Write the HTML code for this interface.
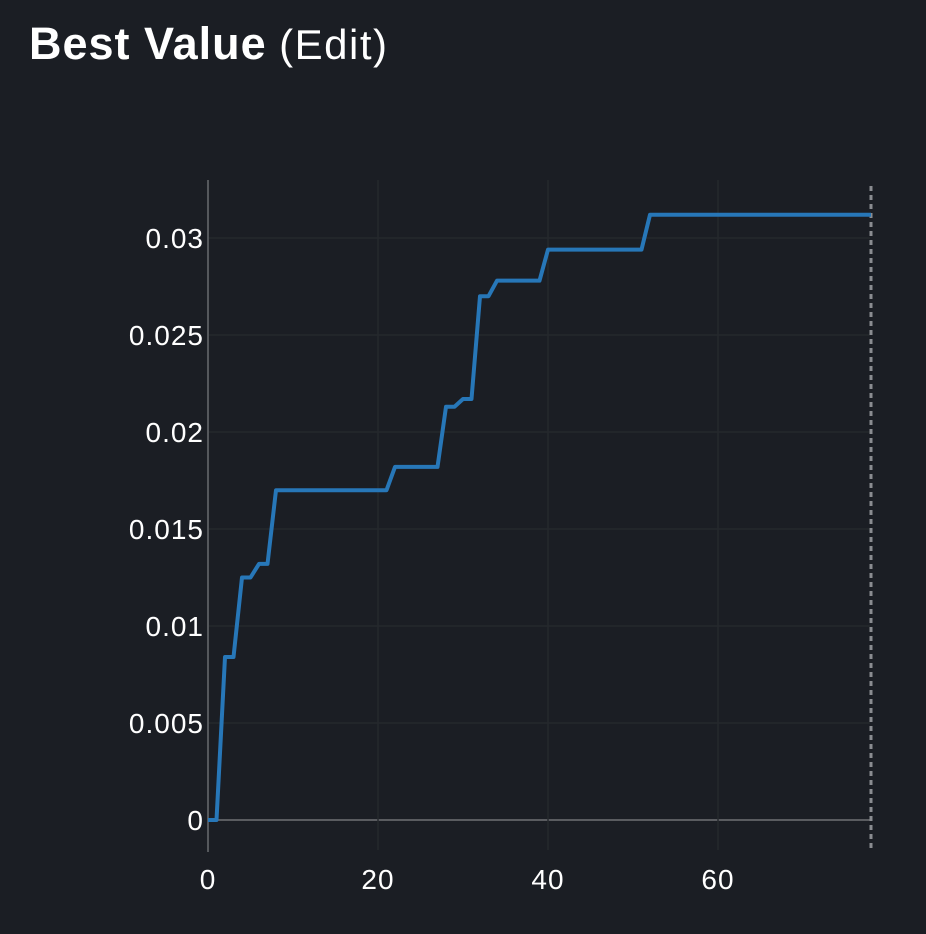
<!DOCTYPE html>
<html><head><meta charset="utf-8"><style>
html,body{margin:0;padding:0;background:#1b1e24;width:926px;height:934px;overflow:hidden}
#title{position:absolute;left:29px;top:18px;font-family:"Liberation Sans",sans-serif;font-size:45px;color:#fff;margin:0;white-space:nowrap}
#title b{font-weight:bold;letter-spacing:1px}
#title span{font-weight:normal;font-size:42px;letter-spacing:1.5px}
svg{position:absolute;left:0;top:0}
text{font-family:"Liberation Sans",sans-serif;fill:#fff;font-size:28px;letter-spacing:1px}
</style></head><body>
<div id="title"><b>Best Value</b> <span>(Edit)</span></div>
<svg id="chart" width="926" height="934"></svg>
<script>
const iterations=[0,1,2,3,4,5,6,7,8,21,22,27,28,29,30,31,32,33,34,39,40,51,52,78];
const bestValues=[0,0,0.0084,0.0084,0.0125,0.0125,0.0132,0.0132,0.017,0.017,0.0182,0.0182,0.0213,0.0213,0.0217,0.0217,0.027,0.027,0.0278,0.0278,0.0294,0.0294,0.0312,0.0312];
const yTicks=[0,0.005,0.01,0.015,0.02,0.025,0.03];
const yTickLabels=["0","0.005","0.01","0.015","0.02","0.025","0.03"];
const xTicks=[0,20,40,60];
const xMax=78;
const X=v=>208+v*8.5;
const Y=v=>820-v*(582/0.03);
const svg=document.getElementById('chart');
const NS='http://www.w3.org/2000/svg';
function mk(tag,attrs){const e=document.createElementNS(NS,tag);for(const k in attrs)e.setAttribute(k,attrs[k]);svg.appendChild(e);return e;}
yTicks.forEach((t,i)=>{
  const g=mk('line',{x1:208,x2:870,y1:Y(t),y2:Y(t),stroke:t===0?'#5a5c60':'#25282d','stroke-width':t===0?2:1.5});
  
  
  const l=mk('text',{x:204,y:Y(t)+10,'text-anchor':'end'});
  l.textContent=yTickLabels[i];
  
  
});
xTicks.forEach(t=>{
  if(t>0){const g=mk('line',{x1:X(t),x2:X(t),y1:180,y2:850,stroke:'#25282d','stroke-width':1.5});
  
  }
  const l=mk('text',{x:X(t),y:889,'text-anchor':'middle'});
  l.textContent=String(t);
  
  
});
const ax=mk('line',{x1:208,x2:208,y1:180,y2:852,stroke:'#55585c','stroke-width':2});


const dl=mk('line',{x1:X(xMax),x2:X(xMax),y1:186,y2:852,stroke:'#8a8c90','stroke-width':3,'stroke-dasharray':'5,4'});


const pts=iterations.map((x,i)=>X(x)+','+Y(bestValues[i])).join(' ');
const pl=mk('polyline',{points:pts,fill:'none',stroke:'#2777b8','stroke-width':4,'stroke-linejoin':'round'});


</script>
</body></html>
